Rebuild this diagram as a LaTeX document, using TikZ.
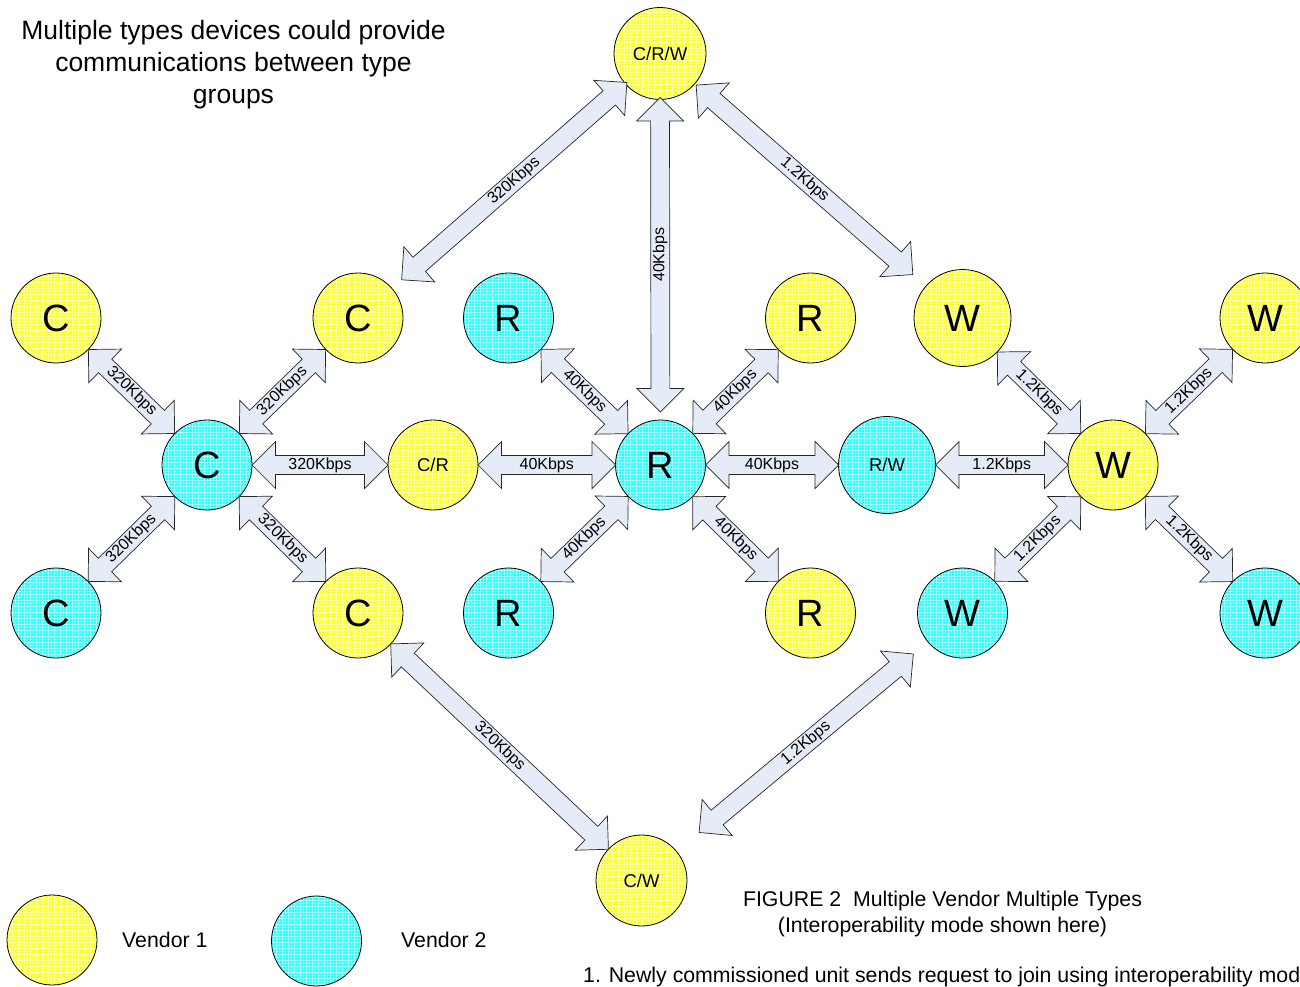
\documentclass[tikz,border=0pt]{standalone}
\usepackage{fontspec}
\setmainfont{Liberation Sans}
\usetikzlibrary{shapes.arrows,calc,patterns}
\definecolor{vyel}{HTML}{FFFF2A}
\definecolor{vyelg}{HTML}{FFFFA8}
\definecolor{vcyan}{HTML}{2AFFFF}
\definecolor{vcyang}{HTML}{A8FFFF}
\definecolor{arrfill}{HTML}{E6ECF7}
\tikzset{
  dev/.style={circle, draw=black, line width=0.8pt, inner sep=0pt, minimum size=90pt,
    font=\fontsize{38}{38}\selectfont},
  vone/.style={dev, preaction={fill=vyel}, pattern=grid, pattern color=vyelg},
  vtwo/.style={dev, preaction={fill=vcyan}, pattern=grid, pattern color=vcyang},
  smalltxt/.style={font=\fontsize{18.5}{18.5}\selectfont},
  dblarr/.style={double arrow, draw=black!85, line width=0.7pt, fill=arrfill,
    double arrow head extend=14pt, double arrow tip angle=90,
    inner xsep=0pt, inner ysep=1.6pt, text height=11.5pt, text depth=3.5pt,
    font=\fontsize{16}{16}\selectfont},
  plain/.style={inner sep=0pt, font=\fontsize{21.3}{25.5}\selectfont},
}
\newcommand\blk[6]{%
  \path let \p1=($(#1)!#3!(#2)$), \p2=($(#2)!#4!(#1)$),
    \n1={atan2(\y2-\y1,\x2-\x1)}, \n2={veclen(\x2-\x1,\y2-\y1)} in
    node[dblarr, minimum height=\n2, rotate=\n1] (#6) at ($(\p1)!0.5!(\p2)$) {#5};}
\begin{document}
\begin{tikzpicture}[x=1pt,y=-1pt]
\useasboundingbox (0,0) rectangle (1300,987);
\clip (0,0) rectangle (1300,987);
% devices
\node[vone, smalltxt, minimum size=92pt] (crw) at (660,53.5) {C/R/W};
\node[vone] (c1) at (56,318) {C};
\node[vone] (c2) at (358,318) {C};
\node[vtwo] (c0) at (207,465) {C};
\node[vtwo] (c3) at (56,613) {C};
\node[vone] (c4) at (358,613) {C};
\node[vone, smalltxt] (cr) at (433,465) {C/R};
\node[vtwo] (r1) at (508.5,318) {R};
\node[vone] (r2) at (810.5,318) {R};
\node[vtwo] (r0) at (660.5,465) {R};
\node[vtwo] (r3) at (508.5,613) {R};
\node[vone] (r4) at (810.5,613) {R};
\node[vtwo, smalltxt, minimum size=97pt] (rw) at (887,465) {R/W};
\node[vone, minimum size=97pt] (w1) at (962.5,318) {W};
\node[vone] (w2) at (1265,318) {W};
\node[vone] (w0) at (1113,465) {W};
\node[vtwo] (w3) at (962.5,613) {W};
\node[vtwo] (w4) at (1265,613) {W};
\node[vone, smalltxt, minimum size=91pt] (cw) at (641.5,880.5) {C/W};
% arrows
\blk{c2}{crw}{58pt}{44pt}{320Kbps}{a1}
\blk{r0}{crw}{53pt}{44pt}{40Kbps}{a2}
\blk{crw}{w1}{48pt}{66pt}{1.2Kbps}{a3}
\blk{c1}{c0}{45pt}{45pt}{320Kbps}{a4}
\blk{c0}{c2}{45pt}{45pt}{320Kbps}{a5}
\blk{c0}{cr}{45pt}{45pt}{320Kbps}{a6}
\blk{c3}{c0}{45pt}{45pt}{320Kbps}{a7}
\blk{c0}{c4}{45pt}{45pt}{320Kbps}{a8}
\blk{cr}{r0}{45pt}{45pt}{40Kbps}{a9}
\blk{r1}{r0}{45pt}{45pt}{40Kbps}{a10}
\blk{r0}{r2}{45pt}{45pt}{40Kbps}{a11}
\blk{r3}{r0}{45pt}{45pt}{40Kbps}{a12}
\blk{r0}{r4}{45pt}{45pt}{40Kbps}{a13}
\blk{r0}{rw}{45pt}{48.5pt}{40Kbps}{a14}
\blk{rw}{w0}{48.5pt}{45pt}{1.2Kbps}{a15}
\blk{w1}{w0}{48.5pt}{45pt}{1.2Kbps}{a16}
\blk{w0}{w2}{45pt}{45pt}{1.2Kbps}{a17}
\blk{w3}{w0}{45pt}{45pt}{1.2Kbps}{a18}
\blk{w0}{w4}{45pt}{45pt}{1.2Kbps}{a19}
\blk{c4}{cw}{45pt}{45.5pt}{320Kbps}{a20}
\blk{cw}{w3}{75pt}{64pt}{1.2Kbps}{a21}
% legend
\node[vone] (leg1) at (52,940) {};
\node[vtwo] (leg2) at (316.5,941) {};
\node[plain, anchor=west] (legt1) at (122,940) {Vendor 1};
\node[plain, anchor=west] (legt2) at (401,940) {Vendor 2};
% texts
\node[inner sep=0pt, align=center, font=\fontsize{26.5}{32}\selectfont] (title) at (233.5,65)
  {Multiple types devices could provide\\communications between type\\groups};
\node[plain, align=center] (cap) at (942.5,914)
  {FIGURE 2\ \ Multiple Vendor Multiple Types\\(Interoperability mode shown here)};
\node[plain, anchor=west] (note) at (583,977)
  {1. Newly commissioned unit sends request to join using interoperability mode};
\end{tikzpicture}
\end{document}
